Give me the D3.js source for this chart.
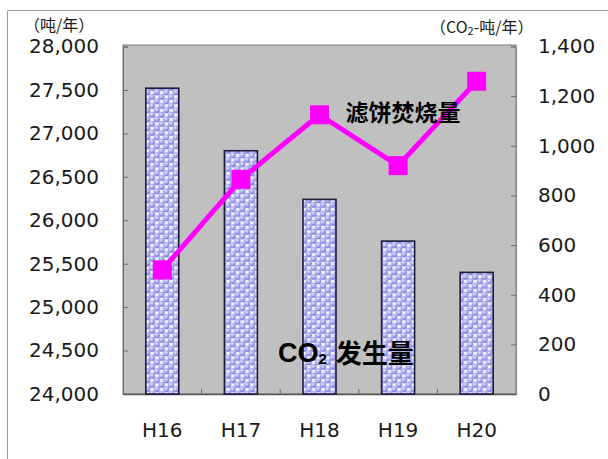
<!DOCTYPE html>
<html>
<head>
<meta charset="utf-8">
<script src="https://cdn.jsdelivr.net/npm/d3@7"></script>
<style>
  html, body { margin: 0; padding: 0; background: #ffffff; }
  svg { display: block; }
  .num { font-family: "DejaVu Sans", sans-serif; font-size: 20px; fill: #1a1a1a; }
  .cjk { font-family: "Noto Sans CJK SC", sans-serif; }
</style>
</head>
<body>
<svg id="chart" width="608" height="459"></svg>
<script>
// Fiscal years (Heisei era)
const years = ["H16", "H17", "H18", "H19", "H20"];
// Filter-cake incineration amount (t/year) — bars, left axis
const incineration = [27520, 26800, 26240, 25760, 25400];
// CO2 emissions (t-CO2/year) — line, right axis
const co2 = [500, 865, 1125, 920, 1260];
// Axis tick values
const leftTicks = [24000, 24500, 25000, 25500, 26000, 26500, 27000, 27500, 28000];
const rightTicks = [0, 200, 400, 600, 800, 1000, 1200, 1400];

const W = 608, H = 459;
const plot = { left: 123, top: 45, right: 516, bottom: 394 };

const svg = d3.select("#chart");

// Bubble texture used to fill the bars
const defs = svg.append("defs");
const grad = defs.append("radialGradient")
  .attr("id", "bubble").attr("cx", "42%").attr("cy", "38%").attr("r", "62%");
grad.append("stop").attr("offset", "0%").attr("stop-color", "#e4e4ff");
grad.append("stop").attr("offset", "55%").attr("stop-color", "#a6a6ee");
grad.append("stop").attr("offset", "100%").attr("stop-color", "#7272d4");
const tw = 9.5, th = 9;
const pat = defs.append("pattern")
  .attr("id", "bubbles").attr("patternUnits", "userSpaceOnUse")
  .attr("width", tw).attr("height", th);
pat.append("rect").attr("width", tw).attr("height", th).attr("fill", "#f4f4ff");
[[tw / 2, th / 4], [0, th * 3 / 4], [tw, th * 3 / 4],
 [0, -th / 4], [tw, -th / 4], [tw / 2, th * 5 / 4]].forEach(([cx, cy]) => {
  pat.append("circle").attr("cx", cx).attr("cy", cy).attr("r", 3.1)
    .attr("fill", "url(#bubble)");
});

// Outer chart frame (top and left edges)
svg.append("path")
  .attr("d", `M7.5,${H} V10.5 H${W}`)
  .attr("fill", "none").attr("stroke", "#9a9a9a").attr("stroke-width", 1);

// Scales
const x = d3.scaleBand().domain(years)
  .range([plot.left, plot.right]).paddingInner(0.58).paddingOuter(0.29);
const yL = d3.scaleLinear().domain([24000, 28000]).range([plot.bottom, 46.5]);
const yR = d3.scaleLinear().domain([0, 1400]).range([plot.bottom, 46.5]);

// Plot area
svg.append("rect")
  .attr("x", plot.left).attr("y", plot.top)
  .attr("width", plot.right - plot.left).attr("height", plot.bottom - plot.top)
  .attr("fill", "#c0c0c0").attr("stroke", "#7a7a7a").attr("stroke-width", 1);

// Left axis: ticks point into the plot
const axL = svg.append("g").attr("transform", `translate(${plot.left},0)`)
  .call(d3.axisLeft(yL).tickValues(leftTicks).tickSize(-5).tickPadding(24)
    .tickFormat(d3.format(",")));
axL.select(".domain").attr("stroke", "#6a6a6a");
axL.selectAll(".tick line").attr("stroke", "#6a6a6a");
axL.selectAll(".tick text").attr("class", "num").attr("font-size", null).attr("font-family", null);

// Right axis
const axR = svg.append("g").attr("transform", `translate(${plot.right},0)`)
  .call(d3.axisRight(yR).tickValues(rightTicks).tickSize(-5).tickPadding(22)
    .tickFormat(d3.format(",")));
axR.select(".domain").attr("stroke", "#8a8a8a");
axR.selectAll(".tick line").attr("stroke", "#6a6a6a");
axR.selectAll(".tick text").attr("class", "num").attr("font-size", null).attr("font-family", null);

// Bottom axis: labels at category centres, ticks between categories
const axB = svg.append("g").attr("transform", `translate(0,${plot.bottom})`)
  .call(d3.axisBottom(x).tickSize(0).tickPadding(29));
axB.select(".domain").attr("stroke", "#555555").attr("stroke-width", 1.5);
axB.selectAll(".tick text").attr("class", "num").attr("font-size", null).attr("font-family", null);
svg.append("g").selectAll("line")
  .data(years.slice(1))
  .join("line")
  .attr("x1", d => x(d) - x.step() * x.paddingInner() / 2)
  .attr("x2", d => x(d) - x.step() * x.paddingInner() / 2)
  .attr("y1", plot.bottom).attr("y2", plot.bottom - 5)
  .attr("stroke", "#6a6a6a");

// Bars
svg.append("g").selectAll("rect")
  .data(years.map((y, i) => ({ y, v: incineration[i] })))
  .join("rect")
  .attr("x", d => x(d.y)).attr("width", x.bandwidth())
  .attr("y", d => yL(d.v)).attr("height", d => plot.bottom - yL(d.v))
  .attr("fill", "url(#bubbles)")
  .attr("stroke", "#1c1c3c").attr("stroke-width", 1.6);

// CO2 line with square markers
const pts = years.map((y, i) => ({ y, v: co2[i] }));
const cx = d => x(d.y) + x.bandwidth() / 2;
svg.append("path")
  .datum(pts)
  .attr("d", d3.line().x(cx).y(d => yR(d.v)))
  .attr("fill", "none").attr("stroke", "#ff00ff").attr("stroke-width", 5)
  .attr("stroke-linejoin", "round");
const ms = 19;
svg.append("g").selectAll("rect")
  .data(pts)
  .join("rect")
  .attr("x", d => cx(d) - ms / 2).attr("y", d => yR(d.v) - ms / 2)
  .attr("width", ms).attr("height", ms)
  .attr("fill", "#ff00ff");

// Unit titles
svg.append("text").attr("class", "cjk")
  .attr("x", 24).attr("y", 31).attr("font-size", 16).attr("fill", "#1a1a1a")
  .text("（吨/年）");
const rt = svg.append("text").attr("class", "cjk")
  .attr("x", 430).attr("y", 33).attr("font-size", 16).attr("fill", "#1a1a1a");
rt.append("tspan").text("（CO");
rt.append("tspan").attr("font-size", 11).attr("dy", 2).text("2");
rt.append("tspan").attr("dy", -2).text("-吨/年）");

// Series annotations
svg.append("text").attr("class", "cjk")
  .attr("x", 403).attr("y", 121).attr("text-anchor", "middle")
  .attr("font-size", 23).attr("font-weight", "bold").attr("fill", "#000")
  .text("滤饼焚烧量");
const co = svg.append("text")
  .attr("x", 278).attr("y", 362).attr("fill", "#000").attr("font-weight", "bold");
co.append("tspan").attr("font-family", "Liberation Sans, Arial, sans-serif")
  .attr("font-size", 27).text("CO");
co.append("tspan").attr("font-family", "Liberation Sans, Arial, sans-serif")
  .attr("font-size", 15).attr("dy", 2).text("2");
co.append("tspan").attr("class", "cjk").attr("font-size", 26)
  .attr("dx", 9).attr("dy", -1).text("发生量");
</script>
</body>
</html>
